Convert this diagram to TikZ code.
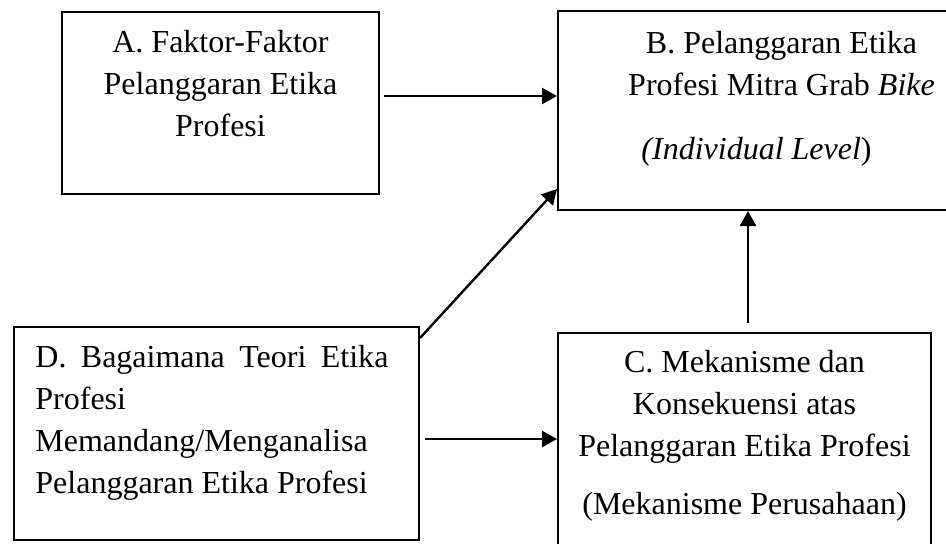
\documentclass[tikz,border=0pt]{standalone}
\usepackage{fontspec}
\setmainfont{Liberation Serif}
\usetikzlibrary{arrows.meta}
\usetikzlibrary{positioning}
\usetikzlibrary{calc}

\begin{document}
\begin{tikzpicture}[x=0.5pt,y=-0.5pt,
    box/.style={draw,line width=1pt,anchor=north west,inner sep=0pt},
    txt/.style={align=center,inner sep=0pt,font=\fontsize{16}{21}\selectfont},
    arr/.style={-{Triangle[length=7.5pt,width=8pt]},line width=1.2pt}]
   \useasboundingbox (0,0) rectangle (946,543);
   \clip (0,0) rectangle (946,543);
   % boxes
   \node[box,minimum width=158.5pt,minimum height=91pt] (box_a) at (61,11) {};
   \node[box,minimum width=204pt,minimum height=99.5pt] (box_b) at (557,10) {};
   \node[box,minimum width=186.5pt,minimum height=108pt] (box_c) at (557,332) {};
   \node[box,minimum width=202.5pt,minimum height=106.5pt] (box_d) at (13,326) {};
   % texts
   \node[txt,below=9.5pt of box_a.north] (txt_a) {A. Faktor-Faktor\\Pelanggaran Etika\\Profesi};
   \node[txt,below=10.5pt of box_b.north,xshift=9.75pt] (txt_b) {B. Pelanggaran Etika\\Profesi Mitra Grab \textit{Bike}\\[11pt]\textit{(Individual Level})\hspace*{25pt}};
   \node[txt,below=9pt of box_c.north] (txt_c) {C. Mekanisme dan\\Konsekuensi atas\\Pelanggaran Etika Profesi\\[8pt](Mekanisme Perusahaan)};
   \node[txt,align=left,below right=9.5pt and 11pt of box_d.north west] (txt_d) {\makebox[176.5pt][s]{D. Bagaimana Teori Etika}\\Profesi\\Memandang/Menganalisa\\Pelanggaran Etika Profesi};
   % arrows
   \coordinate (a_out) at ([xshift=2pt,yshift=3.5pt]box_a.east);
   \coordinate (d_out) at ([xshift=2.5pt,yshift=-2.75pt]box_d.east);
   \coordinate (c_out) at ([xshift=1.75pt,yshift=4.5pt]box_c.north);
   \draw[arr] (a_out) -- (a_out -| box_b.west);
   \draw[arr] (d_out) -- (d_out -| box_c.west);
   \draw[arr] (c_out) -- (c_out |- box_b.south);
   \draw[arr] ([yshift=-6pt]box_d.north east) -- ([yshift=11pt]box_b.south west);
\end{tikzpicture}
\end{document}
